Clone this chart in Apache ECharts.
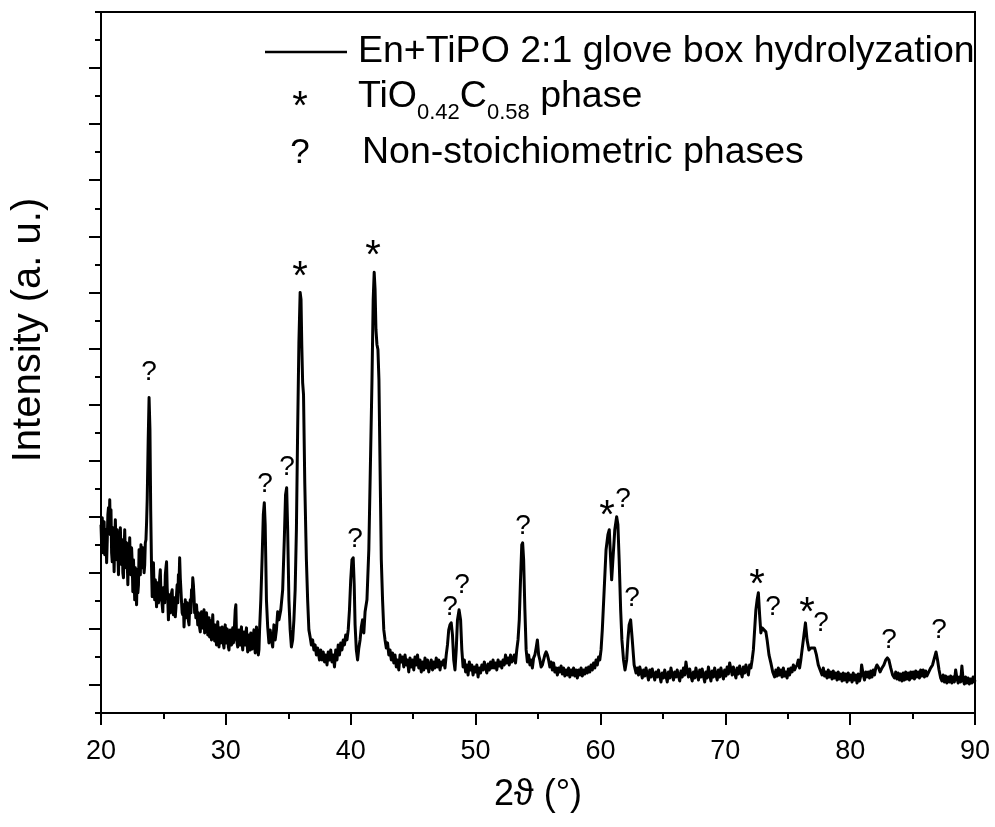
<!DOCTYPE html>
<html><head><meta charset="utf-8">
<script src="https://cdn.jsdelivr.net/npm/echarts@6/dist/echarts.min.js"></script>
<style>html,body{margin:0;padding:0;background:#fff}#c{width:995px;height:827px}</style>
</head><body><div id="c"></div>
<script>
// x axis (2theta, degrees)
const xMin = 20, xMax = 90, xStep = 10;
// y axis (intensity, arbitrary units)
const yMin = 0, yMax = 700, yMinorStep = 28;
const yMajorTicks = [28, 84, 140, 196, 252, 308, 364, 420, 476, 532, 588, 644];

// XRD pattern: [2theta, intensity]
const pattern = [
[20.00,188],[20.05,168],[20.10,195],[20.15,160],[20.20,180],[20.25,191],[20.30,158],[20.35,175],[20.40,183],[20.45,150],
[20.50,172],[20.55,198],[20.60,205],[20.65,185],[20.70,213],[20.75,178],[20.80,203],[20.85,160],[20.90,151],[20.95,185],
[21.00,170],[21.05,141],[21.10,173],[21.15,193],[21.20,165],[21.25,153],[21.30,183],[21.35,160],[21.40,138],[21.45,168],
[21.50,150],[21.55,185],[21.60,162],[21.65,148],[21.70,173],[21.75,140],[21.80,135],[21.85,163],[21.90,183],[21.95,158],
[22.00,145],[22.05,170],[22.10,152],[22.15,128],[22.20,160],[22.25,158],[22.30,175],[22.35,145],[22.40,138],[22.45,165],
[22.50,150],[22.55,121],[22.60,153],[22.65,135],[22.70,113],[22.75,145],[22.80,128],[22.85,108],[22.90,143],[22.95,120],
[23.00,128],[23.05,163],[23.10,140],[23.15,138],[23.20,168],[23.25,150],[23.30,145],[23.35,165],[23.40,161],[23.45,140],
[23.50,148],[23.55,170],[23.60,173],[23.65,190],[23.70,213],[23.78,273],[23.85,315],[23.92,283],[23.98,203],[24.05,143],
[24.10,116],[24.15,140],[24.20,150],[24.25,125],[24.30,113],[24.35,133],[24.40,120],[24.45,106],[24.50,130],[24.55,128],
[24.60,110],[24.65,113],[24.70,135],[24.75,143],[24.80,120],[24.85,118],[24.90,108],[24.95,101],[25.00,125],[25.05,123],
[25.10,110],[25.15,138],[25.20,145],[25.25,151],[25.30,125],[25.35,113],[25.40,93],[25.45,112],[25.50,118],[25.55,100],
[25.60,103],[25.65,120],[25.70,123],[25.75,105],[25.80,98],[25.85,112],[25.90,115],[25.95,96],[26.00,105],[26.05,118],
[26.10,128],[26.15,110],[26.20,138],[26.25,130],[26.30,155],[26.35,135],[26.40,123],[26.45,111],[26.50,100],[26.55,98],
[26.60,108],[26.65,86],[26.70,100],[26.75,113],[26.80,95],[26.85,98],[26.90,110],[26.95,108],[27.00,92],[27.05,88],
[27.10,105],[27.15,113],[27.20,100],[27.25,123],[27.30,115],[27.35,135],[27.40,128],[27.45,116],[27.50,100],[27.55,103],
[27.60,95],[27.65,108],[27.70,98],[27.75,88],[27.80,100],[27.85,98],[27.90,85],[27.95,81],[28.00,95],[28.05,101],
[28.10,88],[28.15,85],[28.20,98],[28.25,103],[28.30,80],[28.35,93],[28.40,84],[28.45,100],[28.50,90],[28.55,78],
[28.60,88],[28.65,95],[28.70,76],[28.75,83],[28.80,92],[28.85,73],[28.90,85],[28.95,98],[29.00,80],[29.05,83],
[29.10,72],[29.15,88],[29.20,78],[29.25,68],[29.30,82],[29.35,91],[29.40,74],[29.45,66],[29.50,80],[29.55,85],
[29.60,70],[29.65,73],[29.70,86],[29.75,81],[29.80,69],[29.85,65],[29.90,78],[29.95,88],[30.00,70],[30.05,73],
[30.10,84],[30.15,81],[30.20,66],[30.25,63],[30.30,76],[30.35,83],[30.40,72],[30.45,68],[30.50,80],[30.55,85],
[30.60,70],[30.65,73],[30.70,90],[30.75,103],[30.80,108],[30.85,78],[30.90,70],[30.95,66],[31.00,76],[31.05,83],
[31.10,72],[31.15,68],[31.20,80],[31.25,86],[31.30,70],[31.35,63],[31.40,75],[31.45,81],[31.50,72],[31.55,68],
[31.60,79],[31.65,85],[31.70,70],[31.75,61],[31.80,74],[31.85,78],[31.90,66],[31.95,63],[32.00,80],[32.05,75],
[32.10,64],[32.15,68],[32.20,77],[32.25,83],[32.30,70],[32.35,60],[32.40,72],[32.45,86],[32.50,74],[32.55,68],
[32.60,58],[32.65,63],[32.70,83],[32.80,113],[32.90,153],[33.00,198],[33.08,210],[33.15,188],
[33.25,113],[33.35,86],[33.45,70],[33.55,83],[33.65,73],[33.75,66],[33.85,88],[33.95,73],[34.05,83],[34.15,101],
[34.25,93],[34.40,103],[34.55,123],[34.68,173],[34.78,218],[34.87,225],[34.95,183],[35.05,113],[35.15,83],[35.25,66],
[35.35,73],[35.45,93],[35.55,123],[35.65,183],[35.75,283],[35.85,370],[35.95,420],[36.02,413],[36.08,368],[36.15,330],
[36.22,318],[36.32,230],[36.45,153],[36.55,113],[36.65,83],[36.75,76],[36.85,68],[36.95,73],[37.05,63],[37.15,68],
[37.25,58],[37.35,65],[37.50,53],[37.60,63],[37.70,53],[37.80,61],[37.90,51],[38.00,58],[38.10,48],[38.20,61],
[38.30,53],[38.40,63],[38.50,51],[38.60,58],[38.70,46],[38.80,63],[38.90,53],[39.00,68],[39.10,58],[39.20,70],
[39.30,63],[39.40,73],[39.50,68],[39.60,78],[39.70,73],[39.80,83],[39.90,103],[40.00,133],[40.10,153],[40.20,155],
[40.28,128],[40.35,88],[40.45,63],[40.55,53],[40.65,65],[40.75,73],[40.85,86],[40.95,93],[41.05,80],[41.15,101],
[41.30,113],[41.45,163],[41.60,263],[41.70,330],[41.80,413],[41.88,440],[41.95,423],[42.02,383],[42.10,368],[42.18,363],
[42.26,333],[42.35,246],[42.45,153],[42.55,113],[42.65,83],[42.75,73],[42.85,65],[42.95,70],[43.05,58],[43.15,63],
[43.25,53],[43.35,60],[43.45,50],[43.55,58],[43.65,46],[43.75,53],[43.85,43],[43.95,58],[44.05,51],[44.15,56],
[44.25,46],[44.35,58],[44.45,48],[44.55,53],[44.65,41],[44.75,55],[44.85,46],[44.95,53],[45.05,43],[45.15,56],
[45.25,48],[45.35,58],[45.45,45],[45.55,53],[45.65,41],[45.75,51],[45.85,43],[45.95,55],[46.05,45],[46.15,53],
[46.25,41],[46.35,48],[46.45,53],[46.55,43],[46.65,51],[46.75,45],[46.85,55],[46.95,46],[47.05,53],[47.15,43],
[47.25,51],[47.35,48],[47.45,53],[47.55,45],[47.65,58],[47.75,68],[47.85,83],[47.95,88],[48.05,90],[48.15,78],
[48.25,53],[48.35,43],[48.45,63],[48.55,93],[48.68,103],[48.80,93],[48.90,63],[49.00,46],[49.10,53],[49.20,41],
[49.30,48],[49.40,38],[49.50,51],[49.60,43],[49.70,48],[49.80,38],[49.90,46],[50.00,41],[50.10,48],[50.20,36],
[50.30,45],[50.40,40],[50.50,48],[50.60,43],[50.70,51],[50.80,45],[50.90,40],[51.00,49],[51.10,43],[51.20,51],
[51.30,45],[51.40,53],[51.50,45],[51.60,50],[51.70,43],[51.80,53],[51.90,47],[52.00,51],[52.10,45],[52.20,53],
[52.30,48],[52.40,58],[52.50,50],[52.60,55],[52.70,48],[52.80,58],[52.90,51],[53.00,53],[53.10,58],[53.20,50],
[53.30,63],[53.40,73],[53.50,93],[53.60,133],[53.70,168],[53.77,170],[53.85,153],[53.95,103],[54.05,63],[54.15,51],
[54.25,58],[54.35,48],[54.45,53],[54.55,45],[54.65,55],[54.75,58],[54.85,65],[54.95,73],[55.05,58],[55.15,53],
[55.25,46],[55.35,48],[55.45,53],[55.55,58],[55.65,61],[55.75,58],[55.85,53],[55.95,46],[56.05,51],[56.15,43],
[56.25,50],[56.35,41],[56.45,45],[56.55,38],[56.65,45],[56.75,41],[56.85,47],[56.95,39],[57.05,45],[57.15,37],
[57.25,43],[57.35,38],[57.45,45],[57.55,36],[57.65,43],[57.75,38],[57.85,45],[57.95,37],[58.05,43],[58.15,35],
[58.25,43],[58.35,38],[58.45,45],[58.55,37],[58.65,43],[58.75,39],[58.85,45],[58.95,40],[59.05,46],[59.15,41],
[59.25,48],[59.35,43],[59.45,50],[59.55,45],[59.65,53],[59.75,48],[59.85,56],[59.95,53],[60.05,63],[60.15,83],
[60.30,123],[60.45,163],[60.60,178],[60.71,183],[60.80,158],[60.90,133],[61.00,153],[61.15,183],[61.30,196],[61.40,188],
[61.50,153],[61.62,103],[61.72,73],[61.85,53],[61.97,43],[62.10,53],[62.20,73],[62.30,88],[62.42,93],[62.55,73],
[62.70,48],[62.85,40],[62.95,45],[63.05,38],[63.15,46],[63.25,41],[63.35,35],[63.45,43],[63.55,37],[63.65,45],
[63.75,39],[63.85,33],[63.95,43],[64.05,36],[64.15,44],[64.25,38],[64.35,33],[64.45,41],[64.55,36],[64.65,43],
[64.75,37],[64.85,31],[64.95,40],[65.05,35],[65.15,43],[65.25,37],[65.35,31],[65.45,41],[65.55,35],[65.65,45],
[65.75,38],[65.85,33],[65.95,41],[66.05,36],[66.15,43],[66.25,37],[66.35,32],[66.45,42],[66.55,36],[66.65,45],
[66.75,38],[66.85,51],[66.95,42],[67.05,36],[67.15,44],[67.25,37],[67.35,32],[67.45,41],[67.55,35],[67.65,45],
[67.75,38],[67.85,33],[67.95,43],[68.05,36],[68.15,44],[68.25,37],[68.35,31],[68.45,41],[68.55,35],[68.65,46],
[68.75,38],[68.85,32],[68.95,42],[69.05,36],[69.15,45],[69.25,38],[69.35,33],[69.45,43],[69.55,36],[69.65,45],
[69.75,39],[69.85,34],[69.95,43],[70.05,37],[70.15,46],[70.25,39],[70.35,50],[70.45,44],[70.55,38],[70.65,46],
[70.75,40],[70.85,35],[70.95,45],[71.05,39],[71.15,47],[71.25,41],[71.35,36],[71.45,46],[71.55,40],[71.65,48],
[71.75,43],[71.85,38],[71.95,48],[72.05,45],[72.15,53],[72.25,63],[72.35,83],[72.45,103],[72.55,113],[72.65,120],
[72.75,98],[72.85,80],[72.95,85],[73.10,83],[73.25,81],[73.35,73],[73.50,58],[73.65,50],[73.80,41],[73.95,36],
[74.05,43],[74.15,37],[74.25,45],[74.35,38],[74.45,43],[74.55,36],[74.65,45],[74.75,37],[74.85,41],[74.95,35],
[75.05,44],[75.15,38],[75.25,45],[75.35,41],[75.45,48],[75.55,43],[75.65,46],[75.75,48],[75.85,53],[75.95,45],
[76.05,53],[76.15,63],[76.30,78],[76.42,90],[76.55,73],[76.70,63],[76.85,65],[77.00,66],[77.15,65],[77.30,58],
[77.45,48],[77.60,43],[77.75,38],[77.85,45],[77.95,37],[78.05,41],[78.15,35],[78.25,43],[78.35,36],[78.45,41],
[78.55,34],[78.65,42],[78.75,35],[78.85,40],[78.95,33],[79.05,41],[79.15,34],[79.25,39],[79.35,32],[79.45,40],
[79.55,33],[79.65,39],[79.75,31],[79.85,40],[79.95,33],[80.05,38],[80.15,31],[80.25,40],[80.35,33],[80.45,38],
[80.55,30],[80.65,39],[80.75,32],[80.85,37],[80.92,48],[81.05,38],[81.15,33],[81.25,41],[81.35,36],[81.45,41],
[81.55,35],[81.65,42],[81.75,36],[81.85,43],[81.95,38],[82.05,45],[82.15,48],[82.25,46],[82.40,41],[82.55,45],
[82.70,48],[82.85,53],[82.98,55],[83.10,53],[83.25,45],[83.40,38],[83.55,35],[83.65,41],[83.75,34],[83.85,40],
[83.95,33],[84.05,39],[84.15,32],[84.25,40],[84.35,33],[84.45,41],[84.55,34],[84.65,40],[84.75,33],[84.85,41],
[84.95,35],[85.05,41],[85.15,34],[85.25,42],[85.35,36],[85.45,41],[85.55,35],[85.65,43],[85.75,37],[85.85,43],
[85.95,36],[86.05,42],[86.15,37],[86.30,41],[86.45,45],[86.60,48],[86.75,55],[86.88,61],[87.00,53],[87.12,43],
[87.25,35],[87.35,32],[87.45,38],[87.55,31],[87.65,37],[87.75,30],[87.85,36],[87.95,31],[88.05,37],[88.15,30],
[88.25,36],[88.35,31],[88.45,43],[88.55,35],[88.65,30],[88.75,36],[88.85,31],[88.95,47],[89.05,33],[89.15,29],
[89.25,36],[89.35,30],[89.45,35],[89.55,29],[89.65,34],[89.75,30],[89.85,36],[89.95,31],[90.00,33]
];

// Peak markers: [2theta, intensity at marker]
const starPeaks = [[35.94,443],[41.78,464],[60.53,205],[72.54,136],[76.54,108]];
const unknownPeaks = [[23.84,340],[33.13,228],[34.90,245],[40.34,173],[47.95,106],[48.91,128],[53.80,186],
  [61.81,213],[62.53,115],[73.82,106],[77.67,90],[83.11,73],[87.11,83]];

const seriesName = 'En+TiPO 2:1 glove box hydrolyzation';
const starLabel = 'TiO{s|0.42}C{s|0.58} phase';
const unknownLabel = 'Non-stoichiometric phases';
const xTitle = '2\u03D1 (\u00B0)';
const yTitle = 'Intensity (a. u.)';

const FONT = '"Liberation Sans", Arial, Helvetica, sans-serif';
const chart = echarts.init(document.getElementById('c'), null, {renderer: 'canvas'});
const axisStroke = {color: '#000', width: 2};
const markLabel = {show: true, position: 'inside', color: '#000', fontFamily: FONT,
  textBorderWidth: 0, textBorderColor: 'transparent', textShadowBlur: 0, opacity: 1};

chart.setOption({
  animation: false,
  backgroundColor: '#fff',
  grid: {left: 101, right: 20, top: 12, bottom: 114, show: true, borderColor: '#000', borderWidth: 2, containLabel: false},
  xAxis: {
    type: 'value', min: xMin, max: xMax, interval: xStep,
    axisLine: {show: true, onZero: false, lineStyle: axisStroke},
    axisTick: {show: true, inside: false, length: 12, lineStyle: axisStroke},
    minorTick: {show: true, splitNumber: 2, length: 6, lineStyle: axisStroke},
    axisLabel: {show: true, color: '#000', fontSize: 27, fontFamily: FONT, margin: 25, showMinLabel: true, showMaxLabel: true},
    splitLine: {show: false}, minorSplitLine: {show: false},
    name: xTitle, nameLocation: 'middle', nameGap: 64,
    nameTextStyle: {color: '#000', fontSize: 36, fontFamily: FONT}
  },
  yAxis: [
    {
      type: 'value', min: yMin, max: yMax, interval: yMinorStep, position: 'left',
      axisLine: {show: true, onZero: false, lineStyle: axisStroke},
      axisTick: {show: true, inside: false, length: 6, lineStyle: axisStroke},
      axisLabel: {show: false}, splitLine: {show: false}
    },
    {
      type: 'value', min: yMin, max: yMax, position: 'left', offset: 0,
      axisLine: {show: false},
      axisTick: {show: true, inside: false, length: 12, customValues: yMajorTicks, lineStyle: axisStroke},
      axisLabel: {show: false}, splitLine: {show: false}
    }
  ],
  graphic: [
    {type: 'text', x: 29, y: 330, rotation: Math.PI / 2,
      style: {text: yTitle, fill: '#000', fontSize: 40, fontFamily: FONT, align: 'center', verticalAlign: 'middle'}},
    {type: 'line', shape: {x1: 265, y1: 52, x2: 347, y2: 52}, style: {stroke: '#000', lineWidth: 2.5}},
    {type: 'text', x: 358, y: 52,
      style: {text: seriesName, fill: '#000', fontSize: 37.5, fontFamily: FONT, align: 'left', verticalAlign: 'middle'}},
    {type: 'text', x: 300, y: 108,
      style: {text: '*', fill: '#000', fontSize: 40, fontFamily: FONT, align: 'center', verticalAlign: 'middle'}},
    {type: 'text', x: 358, y: 97,
      style: {text: starLabel, fill: '#000', fontSize: 37.5, fontFamily: FONT, lineHeight: 54, align: 'left', verticalAlign: 'middle',
        rich: {s: {fontSize: 22, lineHeight: 22, verticalAlign: 'bottom', fontFamily: FONT, fill: '#000'}}}},
    {type: 'text', x: 300, y: 153,
      style: {text: '?', fill: '#000', fontSize: 35, fontFamily: FONT, align: 'center', verticalAlign: 'middle'}},
    {type: 'text', x: 362, y: 153,
      style: {text: unknownLabel, fill: '#000', fontSize: 37.5, fontFamily: FONT, align: 'left', verticalAlign: 'middle'}}
  ],
  series: [
    {
      name: seriesName, type: 'line', data: pattern, xAxisIndex: 0, yAxisIndex: 0,
      showSymbol: false, symbol: 'none', sampling: null, clip: true,
      lineStyle: {color: '#000', width: 3, join: 'round'}, silent: true
    },
    {
      type: 'scatter', data: starPeaks, symbolSize: 0, silent: true, itemStyle: {opacity: 0},
      label: Object.assign({}, markLabel, {offset: [0, 9], formatter: '*', fontSize: 40})
    },
    {
      type: 'scatter', data: unknownPeaks, symbolSize: 0, silent: true, itemStyle: {opacity: 0},
      label: Object.assign({}, markLabel, {formatter: '?', fontSize: 28})
    }
  ]
});
</script></body></html>
